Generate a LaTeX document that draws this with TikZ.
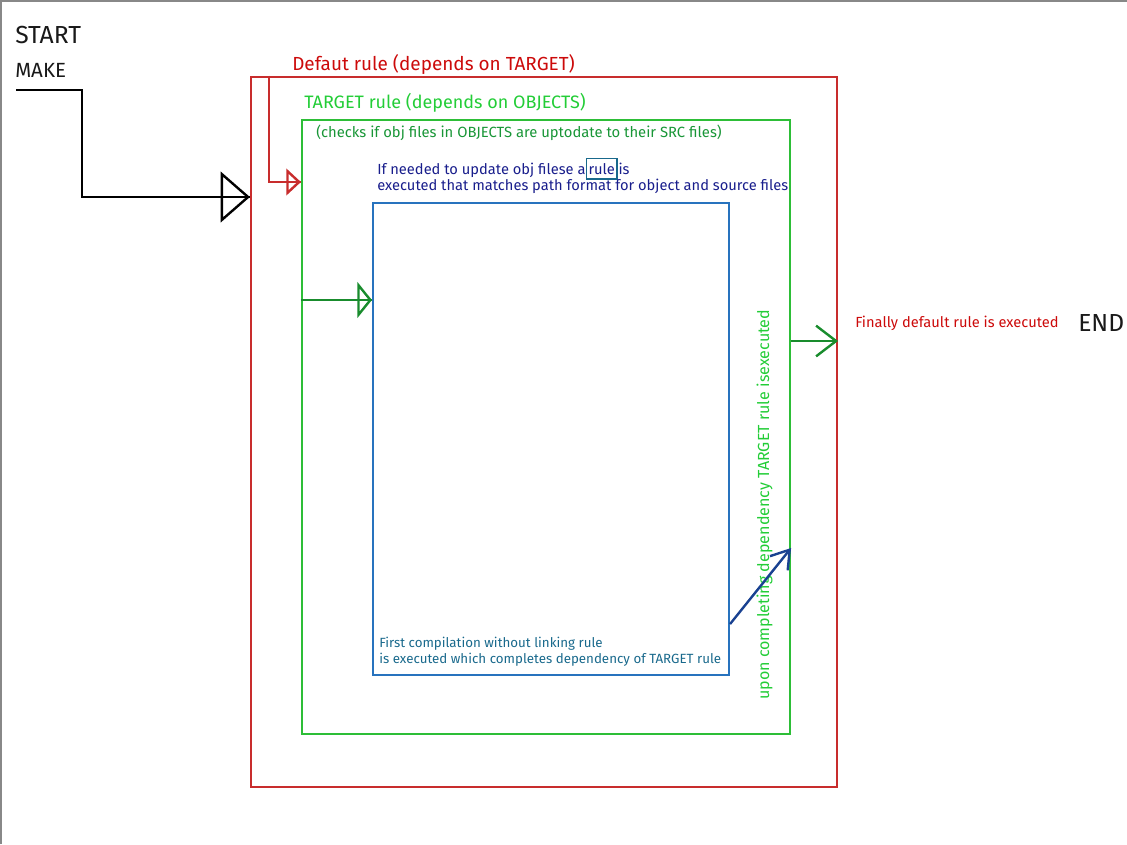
\documentclass[tikz,border=0pt]{standalone}
\usepackage{fontspec}
\setmainfont{Fira Sans}
\usetikzlibrary{positioning}
\usetikzlibrary{arrows.meta}
\usetikzlibrary{fit}
\definecolor{boxred}{RGB}{200,45,45}
\definecolor{textred}{RGB}{204,10,10}
\definecolor{boxgreen}{RGB}{45,190,55}
\definecolor{textgreen}{RGB}{35,205,55}
\definecolor{checkgreen}{RGB}{25,150,55}
\definecolor{arrowgreen}{RGB}{25,140,45}
\definecolor{boxblue}{RGB}{40,115,190}
\definecolor{textnavy}{RGB}{25,30,140}
\definecolor{textteal}{RGB}{25,105,140}
\definecolor{arrownavy}{RGB}{25,65,145}
\definecolor{framegray}{RGB}{136,136,136}
\tikzset{
    box/.style={draw, line width=1.6pt, inner sep=0pt}, % 矩形框
    redbox/.style={box, boxred},
    greenbox/.style={box, boxgreen},
    bluebox/.style={box, boxblue},
    txt/.style={anchor=base west, inner sep=0pt, align=left}, % 文字
    big txt/.style={txt, text={black!90}, font=\fontsize{18.5pt}{22pt}\selectfont},
    mid txt/.style={txt, font=\fontsize{14pt}{17pt}\selectfont},
    small txt/.style={txt, font=\fontsize{11pt}{12pt}\selectfont},
    wire/.style={line width=1.8pt}, % 连线
    through arrow/.style={postaction={draw, -{Triangle[open, #1]}}}
}
\begin{document}
\begin{tikzpicture}[x=0.75pt, y=-0.75pt]
    \useasboundingbox (0,0) rectangle (1127,844);
    % --- 1. 外边框 ---
    \draw[line width=1.5pt, framegray] (1,844) -- (1,1) -- (1127,1);

    % --- 2. 三层规则框: \nm / 样式 / 左上 / 右下 ---
    \foreach \nm / \sty / \xa / \ya / \xb / \yb in {
        default/redbox/251/77/837/787,
        target/greenbox/302/120/790/734,
        objects/bluebox/373/203/729/675
    } {
        \coordinate (\nm-nw) at (\xa, \ya);
        \coordinate (\nm-se) at (\xb, \yb);
        \node[\sty, fit=(\nm-nw)(\nm-se)] (\nm) {};
    }

    % --- 3. 文字 ---
    \node[big txt] (start) at (15, 43) {START};
    \node[txt, text={black!90}, font=\fontsize{15.4pt}{18pt}\selectfont] (make) at (15, 77) {MAKE};
    \node[big txt] (end) at (1078, 331) {END};

    \node[mid txt, textred, font=\fontsize{14.2pt}{17pt}\selectfont] (defaultlabel) at (292, 70) {Defaut rule (depends on TARGET)};
    \node[mid txt, textgreen, font=\fontsize{13.5pt}{16pt}\selectfont] (targetlabel) at (304, 108) {TARGET rule (depends on OBJECTS)};
    \node[small txt, checkgreen, font=\fontsize{11.1pt}{12pt}\selectfont] (checks) at (316, 137) {(checks if obj files in OBJECTS are uptodate to their SRC files)};

    \node[small txt, textnavy] (ifneeded) at (377, 174) {If needed to update obj filese a};
    \node[small txt, textnavy, draw=textteal, line width=1.1pt, inner xsep=1.5pt, inner ysep=3.5pt,
          right=0pt of ifneeded.base east, anchor=base west] (rule) {rule};
    \node[small txt, textnavy, right=0.5pt of rule.base east, anchor=base west] (is) {is};
    \node[small txt, textnavy] (executed) at (377, 190) {executed that matches path format for object and source files};

    \node[small txt, textteal, font=\fontsize{10pt}{11.5pt}\selectfont] (firstcomp) at (379, 663)
        {First compilation without linking rule\\is executed which completes dependency of TARGET rule};
    \node[small txt, textred] (finally) at (855, 327) {Finally default rule is executed};
    \node[mid txt, textgreen, font=\fontsize{12.05pt}{14pt}\selectfont, rotate=90] (upon) at (769, 700)
        {upon completing dependency TARGET rule isexecuted};

    % --- 4. 箭头 ---
    \coordinate (make-end) at (16, 90);
    \draw[wire, black, through arrow={length=22pt, width=38pt}]
        (make-end) -- (82, 90) -- (82, 197) -- (default.west |- 0,197);
    \draw[wire, boxred, through arrow={length=11pt, width=20pt}]
        (269,0 |- default.north) |- (target.west |- 0,182);
    \draw[wire, arrowgreen, through arrow={length=11pt, width=27pt}]
        (target.west |- 0,300) -- (objects.west |- 0,300);
    \draw[wire, arrowgreen, -{Straight Barb[length=15pt, width=23pt]}]
        (target.east |- 0,341) -- (default.east |- 0,341);
    \draw[wire, arrownavy, -{Straight Barb[length=13pt, width=17pt]}]
        (objects.east |- 0,624) -- (target.east |- 0,548);
\end{tikzpicture}
\end{document}
